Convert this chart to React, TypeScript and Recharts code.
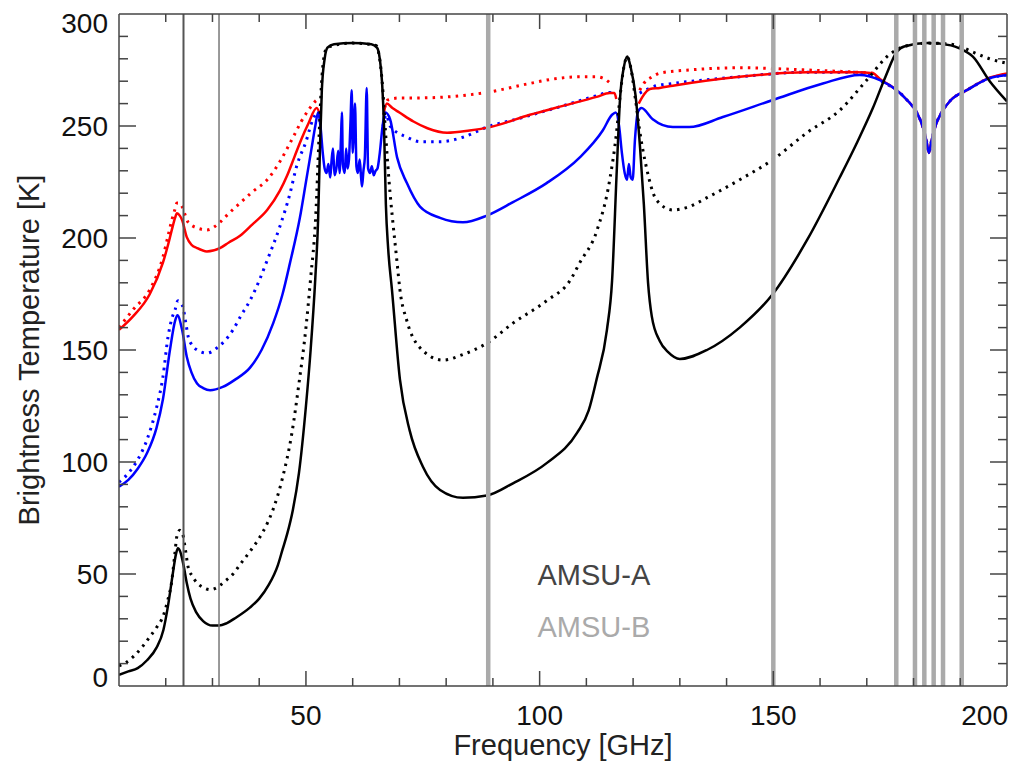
import React from 'react';
import {
  LineChart,
  Line,
  XAxis,
  YAxis,
  ReferenceLine,
  ReferenceDot,
  Label,
} from 'recharts';

type Pt = [number, number | null];

// Brightness temperatures [K] vs frequency [GHz]
const blackSolid: Pt[] = [
  [10, 5], [12, 6.5], [14, 8], [16, 11.5], [18, 17], [19.5, 25], [20.5, 36], [21.5, 50], [22.2, 59],
  [22.6, 61.5], [23.1, 60], [23.8, 54], [24.5, 46], [25.3, 39], [26.5, 33], [28, 29], [30, 27], [31.4, 27],
  [33, 28], [35, 30.5], [38, 35], [40, 39], [42, 45], [44, 54], [45, 61], [46, 68], [47.2, 78.6], [48.5, 95],
  [50, 125], [51, 150], [52, 182], [52.6, 208], [53, 240], [53.4, 266], [54, 280], [54.6, 285], [56, 286.5],
  [60, 287], [64, 286.5], [65.2, 285], [65.8, 280], [66.3, 269], [66.7, 250], [67.1, 215], [67.6, 195],
  [68.4, 177], [70.1, 137], [72.2, 114], [75, 98], [78.7, 87.5], [83.6, 84], [88.7, 85], [94.3, 90.5],
  [101.5, 99.5], [108, 113], [110.5, 123], [112.2, 137], [114.4, 159], [115.5, 181], [116.5, 230],
  [117.2, 262], [118, 276], [118.75, 281], [119.5, 276], [120.5, 264], [121.5, 240], [122.3, 215],
  [123.2, 180], [124, 165], [125.7, 154], [127.5, 149], [130, 146], [135.8, 150], [142.8, 160], [149.9, 175],
  [157.2, 199], [164.2, 227], [168, 243], [171.3, 258], [174, 272], [176.4, 283], [178, 285.5], [183, 287],
  [188, 286], [190, 284.5], [192.7, 281], [196.3, 270], [200, 261],
];

const blackDotted: Pt[] = [
  [10, 9], [11.5, 10.5], [13, 13], [15, 17.5], [16.6, 22], [18, 26], [19.4, 31], [20.4, 38], [21.3, 47],
  [21.9, 58], [22.4, 67], [23, 69.5], [23.6, 68], [24.2, 61], [24.8, 53], [25.7, 49], [26.7, 46], [28, 44],
  [29.5, 43], [31, 44], [32.5, 46.5], [34.4, 50], [36, 54.5], [38, 60], [40, 66], [41.7, 72.5], [43, 79],
  [45, 93], [47, 113], [48.5, 135], [50, 160], [51, 182], [52.1, 210], [52.8, 245], [53.3, 268], [53.8, 280],
  [54.5, 285], [60, 287], [65, 286], [65.7, 281], [66.3, 270], [67, 248], [67.5, 233], [69.5, 189],
  [70.1, 177], [71.6, 163], [74.4, 151], [79.3, 145.5], [83.6, 148], [88.7, 153], [94.3, 162], [101.5, 172],
  [106.5, 181], [108.6, 189], [112.2, 203], [115, 226], [116.5, 248], [117.2, 263], [118, 276], [118.75, 281],
  [119.5, 276], [120.5, 262], [121.4, 248], [122.9, 231], [125, 217], [128.5, 212.5], [132, 214],
  [135.8, 218], [142.8, 226], [149.9, 235], [157.2, 247], [164.2, 257], [170, 270.5], [174.9, 282],
  [178, 285.5], [183, 287], [188, 286.5], [190, 285.5], [192.7, 283], [196.3, 280], [200, 278],
];

const blueSolid: Pt[] = [
  [10, 89], [12, 92], [14, 97], [16, 104], [18, 115], [19.4, 128], [20.9, 150], [22, 163], [22.5, 165.5],
  [23.5, 159], [24.5, 147], [25.5, 140], [26.7, 135], [28, 133], [29.5, 132], [32.2, 133.5], [35, 137],
  [38, 142], [40.5, 150], [43, 162], [45, 175], [46.6, 189], [48.7, 209], [50, 225], [51.2, 240], [52, 250],
  [52.6, 256], [53.1, 250], [53.6, 238], [54, 231], [54.4, 229], [54.8, 233], [55.2, 227], [55.5, 235],
  [55.8, 240], [56.1, 228], [56.5, 231], [56.9, 239], [57.2, 229], [57.5, 245], [57.7, 256], [57.9, 233],
  [58.3, 229], [58.6, 240], [58.9, 231], [59.2, 235], [59.5, 250], [59.8, 266], [60, 238], [60.2, 245],
  [60.5, 260], [60.8, 232], [61.1, 229], [61.5, 235], [61.8, 227], [62, 223], [62.3, 230], [62.6, 236],
  [63, 267], [63.3, 231], [63.7, 229], [64.1, 232], [64.5, 228], [64.9, 230], [65.3, 231], [65.8, 238],
  [66.4, 250], [67, 256], [68, 253], [69.5, 236], [71.6, 224.5], [74.4, 214], [78.7, 209], [83.6, 207],
  [88.7, 210], [94.3, 216], [101.5, 224.5], [108.6, 236], [113.5, 248], [115.5, 255], [116.3, 256],
  [117, 250], [117.6, 238], [118.2, 229], [118.7, 226], [119.1, 233], [119.5, 227], [119.9, 226],
  [120.4, 244], [121, 256], [121.8, 258], [124.2, 253], [128.5, 249.5], [132, 249.5], [139.2, 254],
  [149.9, 261.6], [160.6, 269], [168.5, 272.8], [172.8, 270.5], [176.4, 266], [178.6, 261.6], [180.7, 256],
  [182, 249.5], [182.8, 243], [183.3, 238], [183.8, 243], [184.6, 249.5], [186, 256], [188, 261.6],
  [191.4, 266], [196.3, 271.4], [200, 272.8],
];

const blueDotted: Pt[] = [
  [10, 91], [12, 95], [14, 101], [16, 110], [18, 124], [19.4, 138], [20.5, 156], [21.3, 164], [22, 168],
  [22.6, 172], [23.2, 171], [23.7, 169], [24.3, 162], [24.8, 156], [25.7, 152], [26.7, 150], [28.8, 148.6],
  [31, 151], [34.4, 159], [36, 165], [38, 172], [40, 181], [41.7, 190], [44.4, 205], [46.6, 220], [48, 232],
  [50, 243], [51.5, 253], [52.5, 256], [53, 252], [53.4, null], [66.5, 250], [67.2, 255], [68, 250],
  [71.6, 245], [74.4, 243], [78.7, 243], [83.6, 245], [88.7, 249.5], [95, 253], [100, 256], [105, 259],
  [112.2, 263.5], [115, 265], [116.1, 264], [116.5, null], [121.4, 264.7], [125, 268], [128.5, 269],
  [142.8, 272], [157, 274], [167.9, 274], [172, 272], [172.8, 270.5], [176.4, 266], [178.6, 261.6],
  [180.7, 256], [182, 249.5], [182.8, 243], [183.3, 238], [183.8, 243], [184.6, 249.5], [186, 256],
  [188, 261.6], [191.4, 266], [196.3, 271.4], [200, 272.8],
];

const redSolid: Pt[] = [
  [10, 159], [13, 165], [16.6, 175], [19.4, 189], [20.5, 197], [21.3, 203.6], [22, 209], [22.4, 211],
  [23, 210], [23.5, 208], [24.5, 200.4], [25.5, 197], [26.7, 195.5], [28.8, 194], [31.6, 195.5], [33.5, 198],
  [35.9, 201], [38.5, 206], [41.7, 212.5], [44.4, 221], [46, 228], [47.5, 236], [49, 244], [50.5, 251],
  [52.3, 258], [53, 255], [53.4, null], [66.6, 255], [67.3, 260], [68.5, 258], [70, 256], [73, 252], [76, 249],
  [80.2, 247], [85, 248], [89.4, 249.5], [97.9, 255], [105, 259], [112.2, 263], [115, 264.7], [116, 264.7],
  [116.4, 262], [116.8, null], [121.2, 260], [122, 263], [123.6, 266.5], [125.7, 267], [128.5, 268],
  [142.8, 272], [157.2, 274], [167.9, 274], [171.3, 273.5], [172.8, 271], [176.4, 266], [178.6, 261.6],
  [180.7, 256], [182, 249.5], [182.8, 243], [183.3, 238], [183.8, 243], [184.6, 249.5], [186, 256],
  [188, 261.6], [191.4, 266], [196.3, 271.6], [200, 273.5],
];

const redDotted: Pt[] = [
  [10, 160], [13, 168], [16.6, 177], [19.4, 191.5], [20.5, 201], [21.3, 208], [22, 213], [22.4, 215.6],
  [23, 215.5], [23.5, 214], [24.2, 210], [24.8, 207], [26.7, 204.5], [28.8, 203.6], [31.6, 207], [33.5, 211],
  [35.9, 215.6], [38.5, 220.5], [41.7, 226], [44.4, 234], [46, 240], [47.5, 246], [49, 252], [50.5, 257],
  [52, 261], [52.6, 262], [53, null], [66.8, 258], [67.5, 261.6], [70, 262.5], [73, 262.5], [80.2, 263],
  [88.7, 265], [97.9, 269], [103, 271], [108.6, 272], [112, 272], [113.5, 271.4], [115.7, 268], [116.2, null],
  [121.4, 266], [122.9, 270.5], [123.6, 271.4], [125.7, 273.6], [132, 275], [142.8, 276], [157.2, 275],
  [168, 274], [172, 273.5],
];

// instrument channels [GHz]
const amsuAChannels = [23.8, 31.4];
const amsuBChannels = [89, 150, 176.31, 180.31, 182.31, 184.31, 186.31, 190.31];

const xTicks = [10, 20, 30, 40, 50, 60, 70, 80, 90, 100, 110, 120, 130, 140, 150, 160, 170, 180, 190, 200];
const yTicks = [0, 10, 20, 30, 40, 50, 60, 70, 80, 90, 100, 110, 120, 130, 140, 150, 160, 170, 180, 190, 200,
  210, 220, 230, 240, 250, 260, 270, 280, 290, 300];

const toRows = (pts: Pt[]) => pts.map(([f, t]) => ({ f, t }));

const FONT = '"Liberation Sans", Arial, Helvetica, sans-serif';
const AXIS = '#444';

const BottomTick = (props: any) => {
  const { x, y, payload } = props;
  const v = payload.value;
  const major = v % 50 === 0;
  return (
    <g>
      {v > 10 && v < 200 && (
        <line x1={x} x2={x} y1={y} y2={y - (major ? 15 : 8)} stroke={AXIS} strokeWidth={1.5} />
      )}
      {major && (
        <text x={v === 200 ? x + 1 : x} y={y + 29} textAnchor={v === 200 ? 'end' : 'middle'}
          dominantBaseline="central" fontSize={28} fontFamily={FONT} fill="#111">{v}</text>
      )}
    </g>
  );
};

const TopTick = (props: any) => {
  const { x, y, payload } = props;
  const v = payload.value;
  if (v <= 10 || v >= 200) return <g />;
  const major = v % 50 === 0;
  return <line x1={x} x2={x} y1={y} y2={y + (major ? 15 : 8)} stroke={AXIS} strokeWidth={1.5} />;
};

const LeftTick = (props: any) => {
  const { x, y, payload } = props;
  const v = payload.value;
  const major = v % 50 === 0;
  const dy = v === 300 ? 9 : v === 0 ? -9 : 0;
  return (
    <g>
      {v > 0 && v < 300 && (
        <line x1={x} x2={x + (major ? 17 : 9)} y1={y} y2={y} stroke={AXIS} strokeWidth={1.5} />
      )}
      {major && (
        <text x={x - 11} y={y + dy} textAnchor="end" dominantBaseline="central"
          fontSize={28} fontFamily={FONT} fill="#111">{v}</text>
      )}
    </g>
  );
};

const RightTick = (props: any) => {
  const { x, y, payload } = props;
  const v = payload.value;
  if (v <= 0 || v >= 300) return <g />;
  const major = v % 50 === 0;
  return <line x1={x} x2={x - (major ? 17 : 9)} y1={y} y2={y} stroke={AXIS} strokeWidth={1.5} />;
};

const textShape = (label: string, color: string) => (p: any) => (
  <text x={p.cx} y={p.cy} textAnchor="middle" fontSize={29} fontFamily={FONT} fill={color}>{label}</text>
);

export default function App() {
  const solid = { type: 'monotone' as const, dataKey: 't', dot: false, strokeWidth: 2.5, isAnimationActive: false };
  const dotted = { ...solid, strokeWidth: 3, strokeDasharray: '2.5 5.2' };
  return (
    <div style={{ width: 1027, height: 756, fontFamily: FONT }}>
      <LineChart width={1027} height={756} margin={{ top: 0, right: 0, bottom: 0, left: 0 }}>
        <XAxis dataKey="f" type="number" domain={[10, 200]} ticks={xTicks} interval={0}
          allowDataOverflow height={78} tickSize={0} tickMargin={0} tick={<BottomTick />}
          axisLine={{ stroke: AXIS, strokeWidth: 1.5 }} tickLine={false}>
          <Label value="Frequency [GHz]" position="insideBottom" offset={9}
            style={{ fontSize: 29, fill: '#222', fontFamily: FONT }} />
        </XAxis>
        <XAxis xAxisId="top" orientation="top" dataKey="f" type="number" domain={[10, 200]} ticks={xTicks}
          interval={0} allowDataOverflow height={6} tickSize={0} tickMargin={0} tick={<TopTick />}
          axisLine={{ stroke: AXIS, strokeWidth: 1.5 }} tickLine={false} />
        <YAxis type="number" domain={[0, 300]} ticks={yTicks} interval={0} allowDataOverflow width={111}
          tickSize={0} tickMargin={0} tick={<LeftTick />} axisLine={{ stroke: AXIS, strokeWidth: 1.5 }}
          tickLine={false}>
          <Label value="Brightness Temperature [K]" angle={-90} position="insideLeft" offset={21}
            style={{ fontSize: 29, fill: '#222', textAnchor: 'middle', fontFamily: FONT }} />
        </YAxis>
        <YAxis yAxisId="right" orientation="right" type="number" domain={[0, 300]} ticks={yTicks}
          interval={0} allowDataOverflow width={28} tickSize={0} tickMargin={0} tick={<RightTick />}
          axisLine={{ stroke: AXIS, strokeWidth: 1.5 }} tickLine={false} />

        <Line {...dotted} data={toRows(blueDotted)} stroke="#0000ff" />
        <Line {...dotted} data={toRows(redDotted)} stroke="#ff0000" />
        <Line {...solid} data={toRows(redSolid)} stroke="#ff0000" />
        <Line {...solid} data={toRows(blueSolid)} stroke="#0000ff" />
        <Line {...dotted} data={toRows(blackDotted)} stroke="#000000" />
        <Line {...solid} data={toRows(blackSolid)} stroke="#000000" />

        {amsuAChannels.map((f, i) => (
          <ReferenceLine key={'a' + f} x={f} stroke={i === 0 ? '#555' : '#777'} strokeWidth={i === 0 ? 2 : 1.5} />
        ))}
        {amsuBChannels.map((f) => (
          <ReferenceLine key={'b' + f} x={f} stroke="#aaaaaa" strokeWidth={4.5} />
        ))}
        <ReferenceDot x={111.6} y={45} r={0} shape={textShape('AMSU-A', '#444')} />
        <ReferenceDot x={111.6} y={21.9} r={0} shape={textShape('AMSU-B', '#aaa')} />
      </LineChart>
    </div>
  );
}
